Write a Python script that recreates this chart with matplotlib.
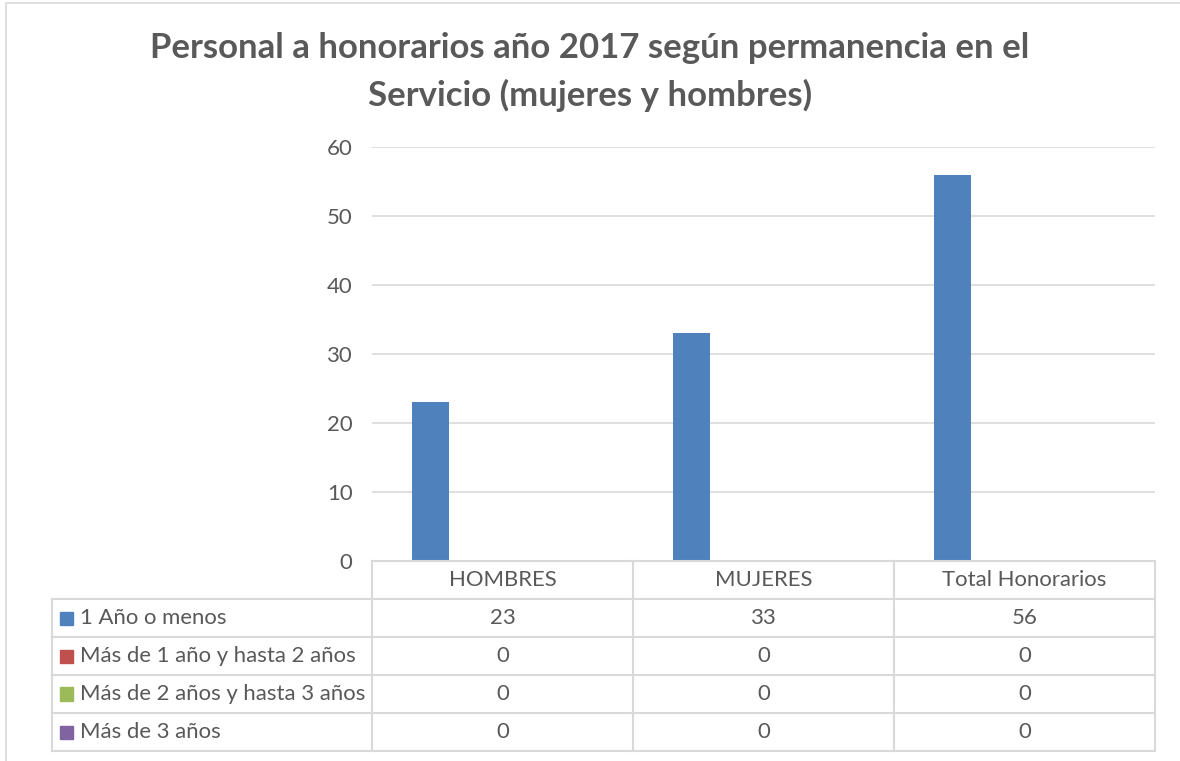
import numpy as np
import matplotlib.pyplot as plt
from matplotlib.lines import Line2D
from matplotlib.patches import Rectangle

categories = ['HOMBRES', 'MUJERES', 'Total Honorarios']
series_names = ['1 Año o menos', 'Más de 1 año y hasta 2 años',
                'Más de 2 años y hasta 3 años', 'Más de 3 años']
values = [
    [23, 33, 56],
    [0, 0, 0],
    [0, 0, 0],
    [0, 0, 0],
]
colors = ['#4F81BD', '#C0504D', '#9BBB59', '#8064A2']
yticks = [0, 10, 20, 30, 40, 50, 60]

W, H = 1180, 761
txt = '#595959'
grid = '#D9D9D9'
font = 'Lato'
fs = 15.9


def fx(x):
    return x / W


def fy(y):
    return 1 - y / H


fig = plt.figure(figsize=(W / 100, H / 100), dpi=100)

# outer chart border
fig.add_artist(Rectangle((fx(6), fy(800)), fx(1200), fy(3) - fy(800),
                         transform=fig.transFigure, fill=False,
                         edgecolor=grid, lw=1.2))

fig.text(0.5, fy(48), 'Personal a honorarios año 2017 según permanencia en el',
         ha='center', va='center', fontsize=25, fontweight='bold',
         color=txt, family=font)
fig.text(0.5, fy(95), 'Servicio (mujeres y hombres)',
         ha='center', va='center', fontsize=25, fontweight='bold',
         color=txt, family=font)

x0, x1, ytop, ybot = 372, 1155, 147, 561
ax = fig.add_axes([fx(x0), fy(ybot), fx(x1) - fx(x0), fy(ytop) - fy(ybot)])

n = len(series_names)
x = np.arange(len(categories))
step = 0.184
width = 0.142
for i in range(n):
    off = (i - (n - 1) / 2) * step
    ax.bar(x + off, values[i], width, color=colors[i], zorder=3)

ax.set_xlim(-0.5, len(categories) - 0.5)
ax.set_ylim(0, 60)
ax.set_yticks(yticks)
ax.set_xticks([])
ax.yaxis.grid(True, color=grid, lw=1.2)
ax.tick_params(axis='y', length=0, pad=14, labelsize=fs, labelcolor=txt)
for lab in ax.get_yticklabels():
    lab.set_family(font)
for s in ax.spines.values():
    s.set_visible(False)

# data table under the chart
col_edges = [372, 633, 894, 1155]
row_edges = [561, 599, 637, 675, 713, 751]
left = 52


def hline(xa, xb, y):
    fig.add_artist(Line2D([fx(xa), fx(xb)], [fy(y), fy(y)],
                          transform=fig.transFigure, color=grid, lw=1.5))


def vline(x, ya, yb):
    fig.add_artist(Line2D([fx(x), fx(x)], [fy(ya), fy(yb)],
                          transform=fig.transFigure, color=grid, lw=1.5))


hline(col_edges[0], col_edges[-1], row_edges[0])
for y in row_edges[1:]:
    hline(left, col_edges[-1], y)
for xc in col_edges:
    vline(xc, row_edges[0], row_edges[-1])
vline(left, row_edges[1], row_edges[-1])

for j, c in enumerate(categories):
    cx = (col_edges[j] + col_edges[j + 1]) / 2
    cy = (row_edges[0] + row_edges[1]) / 2
    fig.text(fx(cx), fy(cy), c, ha='center', va='center', fontsize=fs,
             color=txt, family=font)

for i, name in enumerate(series_names):
    cy = (row_edges[i + 1] + row_edges[i + 2]) / 2
    fig.add_artist(Rectangle((fx(60), fy(cy + 6.5)), fx(13), fy(cy - 6.5) - fy(cy + 6.5),
                             transform=fig.transFigure, color=colors[i]))
    fig.text(fx(80), fy(cy), name, ha='left', va='center', fontsize=fs,
             color=txt, family=font)
    for j in range(len(categories)):
        cx = (col_edges[j] + col_edges[j + 1]) / 2
        fig.text(fx(cx), fy(cy), str(values[i][j]), ha='center', va='center',
                 fontsize=fs, color=txt, family=font)

fig.savefig('out.png', dpi=100)
